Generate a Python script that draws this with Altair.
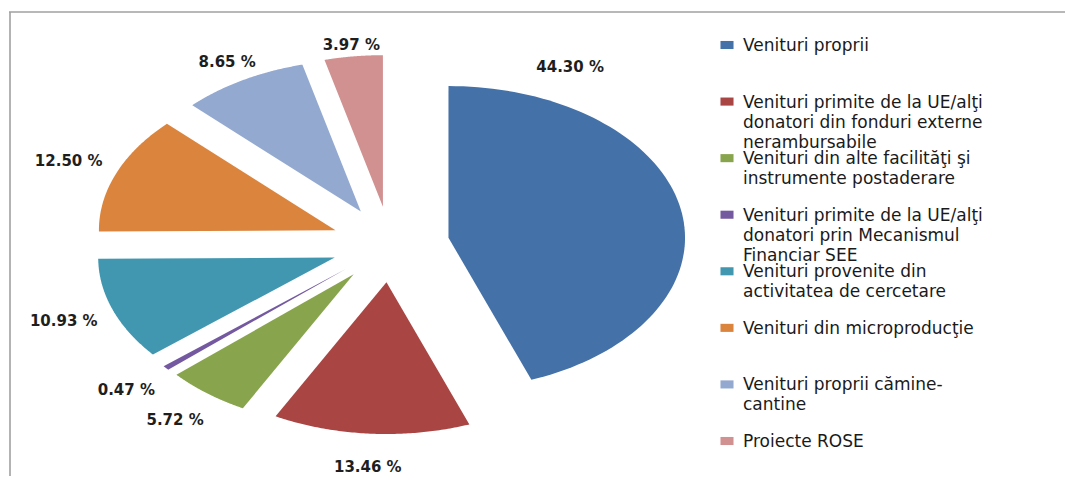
import math
import altair as alt
import pandas as pd

# ---------------- data ----------------
categories = [
    "Venituri proprii",
    "Venituri primite de la UE/alţi donatori din fonduri externe nerambursabile",
    "Venituri din alte facilităţi şi instrumente postaderare",
    "Venituri primite de la UE/alţi donatori prin Mecanismul Financiar SEE",
    "Venituri provenite din activitatea de cercetare",
    "Venituri din microproducţie",
    "Venituri proprii cămine-cantine",
    "Proiecte ROSE",
]
legend_labels = [
    "Venituri proprii",
    "Venituri primite de la UE/alţi\ndonatori din fonduri externe\nnerambursabile",
    "Venituri din alte facilităţi şi\ninstrumente postaderare",
    "Venituri primite de la UE/alţi\ndonatori prin Mecanismul\nFinanciar SEE",
    "Venituri provenite din\nactivitatea de cercetare",
    "Venituri din microproducţie",
    "Venituri proprii cămine-\ncantine",
    "Proiecte ROSE",
]
percent = [44.30, 13.46, 5.72, 0.47, 10.93, 12.50, 8.65, 3.97]

# ---------------- style / layout ----------------
colors = ["#4471A7", "#A94543", "#88A44D", "#7459A0",
          "#4297B0", "#DB843D", "#93A9D0", "#D29191"]
W, H = 1057, 468            # whole chart (padding 0)
PIE_CX, PIE_CY = 382, 237   # pie centre in chart pixels
RX, RY = 237, 152           # pie radii (image is stretched horizontally)
EXPLODE = 0.25              # explode distance as a fraction of the radius
N = 90                      # points along each slice's outer arc
LABEL_ANGLE_OVERRIDE = {categories[0]: 33.0}   # degrees
LEG_TOP, LEG_BOTTOM = 37, 433
LEG_SYM_X, LEG_TEXT_X = 718, 734

df = pd.DataFrame({
    "idx": list(range(len(categories))),
    "cat": categories,
    "legend": legend_labels,
    "pct": percent,
})

xs = alt.Scale(domain=[-PIE_CX / RX, (W - PIE_CX) / RX], nice=False, zero=False)
ys = alt.Scale(domain=[-(H - PIE_CY) / RY, PIE_CY / RY], nice=False, zero=False)
color_scale = alt.Scale(domain=categories, range=colors)

base = (
    alt.Chart(df)
    .transform_window(cum="sum(pct)", sort=[alt.SortField("idx")], frame=[None, 0])
    .transform_joinaggregate(total="sum(pct)")
    .transform_calculate(a0="2*PI*(datum.cum - datum.pct)/datum.total")
    .transform_calculate(a1="2*PI*datum.cum/datum.total")
    .transform_calculate(mid="(datum.a0 + datum.a1)/2")
    .transform_calculate(ox=f"{EXPLODE}*sin(datum.mid)")
    .transform_calculate(oy=f"{EXPLODE}*cos(datum.mid)")
)

slices = (
    base.transform_calculate(ks=f"sequence(0, {N + 2})")
    .transform_flatten(["ks"], as_=["k"])
    .transform_calculate(t=f"datum.a0 + (datum.a1 - datum.a0)*clamp((datum.k - 1)/{N - 1}, 0, 1)")
    .transform_calculate(apex=f"datum.k == 0 || datum.k == {N + 1}")
    .transform_calculate(px="datum.ox + (datum.apex ? 0 : sin(datum.t))")
    .transform_calculate(py="datum.oy + (datum.apex ? 0 : cos(datum.t))")
    .mark_line(filled=True, strokeWidth=0, opacity=1)
    .encode(
        x=alt.X("px:Q", scale=xs, axis=None),
        y=alt.Y("py:Q", scale=ys, axis=None),
        color=alt.Color("cat:N", scale=color_scale, legend=None),
        order=alt.Order("k:Q"),
    )
)

override_expr = "datum.mid"
for cat, deg in LABEL_ANGLE_OVERRIDE.items():
    override_expr = f"datum.cat == '{cat}' ? {math.radians(deg)} : ({override_expr})"

labels = (
    base.transform_calculate(la=override_expr)
    .transform_calculate(lr="1.47 - 0.15*pow(max(0, cos(datum.la)), 4)")
    .transform_calculate(lx="datum.lr*sin(datum.la)")
    .transform_calculate(ly="datum.lr*cos(datum.la)")
    .transform_calculate(txt="format(datum.pct, '.2f') + ' %'")
    .mark_text(font="DejaVu Sans", fontSize=15, fontWeight="bold", color="#1e1e1e",
               align="center", baseline="middle")
    .encode(
        x=alt.X("lx:Q", scale=xs, axis=None),
        y=alt.Y("ly:Q", scale=ys, axis=None),
        text="txt:N",
    )
)

leg_y = alt.Y("cat:N", sort=categories, axis=None,
              scale=alt.Scale(type="point", domain=categories,
                              range=[LEG_TOP, LEG_BOTTOM], padding=0))

leg_sym = (
    alt.Chart(df)
    .mark_point(shape="M-1,-0.62L1,-0.62L1,0.62L-1,0.62Z", filled=True, size=170, opacity=1)
    .encode(x=alt.value(LEG_SYM_X), y=leg_y,
            color=alt.Color("cat:N", scale=color_scale, legend=None))
)
leg_txt = (
    alt.Chart(df)
    .mark_text(font="DejaVu Sans", fontSize=17, color="#1a1a1a", align="left",
               baseline="alphabetic", dy=6, lineBreak="\n", lineHeight=20)
    .encode(x=alt.value(LEG_TEXT_X), y=leg_y, text="legend:N")
)

one = pd.DataFrame({"a": [0]})
frame_top = alt.Chart(one).mark_rule(color="#a0a0a0", strokeWidth=1.6).encode(
    x=alt.value(0), x2=alt.value(W), y=alt.value(4))
frame_left = alt.Chart(one).mark_rule(color="#a0a0a0", strokeWidth=1.6).encode(
    x=alt.value(1), y=alt.value(4), y2=alt.value(H))

chart = (
    alt.layer(frame_top, frame_left, slices, labels, leg_sym, leg_txt)
    .resolve_scale(x="independent", y="independent")
    .properties(width=W, height=H, padding=0,
                autosize=alt.AutoSizeParams(type="fit", contains="padding"))
    .configure_view(stroke=None)
)

chart.save("out.html", embed_options={"renderer": "svg", "actions": False})
